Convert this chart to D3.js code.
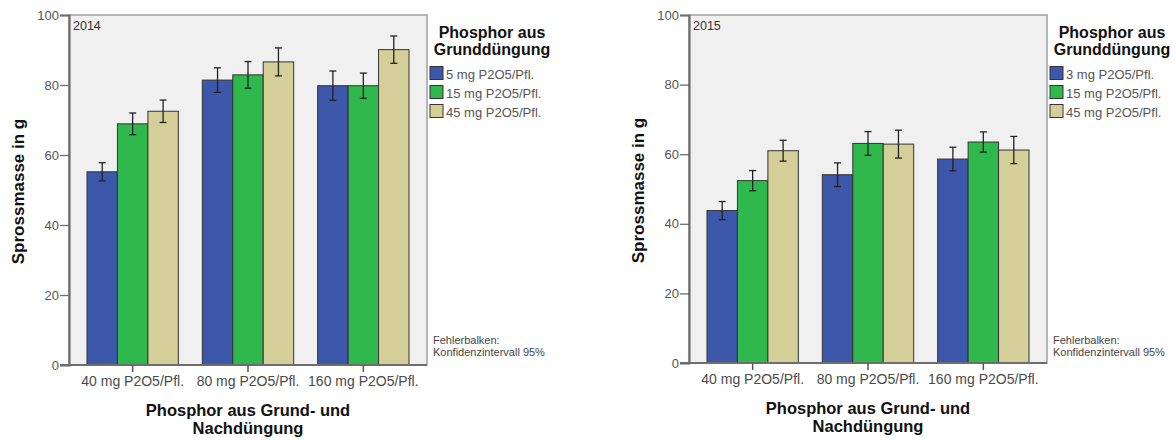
<!DOCTYPE html>
<html>
<head>
<meta charset="utf-8">
<script src="https://cdn.jsdelivr.net/npm/d3@7"></script>
<style>
  body { margin: 0; background: #fff; }
  text { font-family: Arial, "Liberation Sans", sans-serif; }
</style>
</head>
<body>
<div id="chart"></div>
<script>
// Data
const categories = ["40 mg P2O5/Pfl.", "80 mg P2O5/Pfl.", "160 mg P2O5/Pfl."];
const series2014 = ["5 mg P2O5/Pfl.", "15 mg P2O5/Pfl.", "45 mg P2O5/Pfl."];
const series2015 = ["3 mg P2O5/Pfl.", "15 mg P2O5/Pfl.", "45 mg P2O5/Pfl."];
// means per category (rows) and series (columns)
const mean2014 = [[55.2, 68.9, 72.5], [81.4, 82.9, 86.6], [79.8, 79.8, 90.1]];
const ci2014   = [[2.6, 3.1, 3.2], [3.5, 3.8, 4.0], [4.2, 3.6, 3.9]];
const mean2015 = [[43.8, 52.4, 61.0], [54.1, 63.1, 62.9], [58.6, 63.5, 61.2]];
const ci2015   = [[2.6, 2.9, 3.0], [3.4, 3.4, 4.0], [3.4, 2.9, 3.9]];
const yTicks = [0, 20, 40, 60, 80, 100];

const colors = ["#3d57aa", "#2fb84b", "#d4cf98"];

const width = 1176;
const height = 440;

const svg = d3.select("#chart")
  .append("svg")
  .attr("width", width)
  .attr("height", height)
  .attr("viewBox", [0, 0, width, height]);

const panels = [
  { year: "2014", series: series2014, means: mean2014, ci: ci2014, left: 69, bottom: 365 },
  { year: "2015", series: series2015, means: mean2015, ci: ci2015, left: 689, bottom: 363 }
];

panels.forEach(p => {
  const top = 15, right = p.left + 358;
  const g = svg.append("g");

  const x = d3.scaleBand()
    .domain(categories)
    .range([p.left, right])
    .paddingInner(0.208)
    .paddingOuter(0.156);

  const xs = d3.scaleBand()
    .domain(d3.range(p.series.length))
    .range([0, x.bandwidth()]);

  const y = d3.scaleLinear()
    .domain([0, 100])
    .range([p.bottom, top]);

  // plot background and frame
  g.append("rect")
    .attr("x", p.left).attr("y", top)
    .attr("width", right - p.left).attr("height", p.bottom - top)
    .attr("fill", "#f0f0f0")
    .attr("stroke", "#a0a0a0")
    .attr("stroke-width", 1.5);

  // bars
  const rows = categories.flatMap((c, i) => p.series.map((s, j) => ({
    cat: c, j: j, value: p.means[i][j], ci: p.ci[i][j]
  })));

  g.selectAll("rect.bar")
    .data(rows)
    .join("rect")
    .attr("class", "bar")
    .attr("x", d => x(d.cat) + xs(d.j))
    .attr("y", d => y(d.value))
    .attr("width", xs.bandwidth())
    .attr("height", d => y(0) - y(d.value))
    .attr("fill", d => colors[d.j])
    .attr("stroke", "#333")
    .attr("stroke-width", 1);

  // error bars
  const eb = g.selectAll("g.err")
    .data(rows)
    .join("g")
    .attr("class", "err")
    .attr("transform", d => `translate(${x(d.cat) + xs(d.j) + xs.bandwidth() / 2},0)`)
    .attr("stroke", "#222")
    .attr("stroke-width", 1.3);

  eb.append("line")
    .attr("y1", d => y(d.value + d.ci))
    .attr("y2", d => y(d.value - d.ci));
  eb.append("line")
    .attr("x1", -3.5).attr("x2", 3.5)
    .attr("y1", d => y(d.value + d.ci)).attr("y2", d => y(d.value + d.ci));
  eb.append("line")
    .attr("x1", -3.5).attr("x2", 3.5)
    .attr("y1", d => y(d.value - d.ci)).attr("y2", d => y(d.value - d.ci));

  // y axis
  const yAxis = g.append("g")
    .attr("transform", `translate(${p.left},0)`)
    .call(d3.axisLeft(y).tickValues(yTicks).tickSize(9).tickPadding(1));
  yAxis.select(".domain").attr("stroke", "#6e6e6e").attr("stroke-width", 2.2);
  yAxis.selectAll(".tick line").attr("stroke", "#6e6e6e").attr("stroke-width", 1.3);
  yAxis.selectAll(".tick text")
    .attr("fill", "#555")
    .style("font-size", "13px")
    .style("font-family", "Arial, 'Liberation Sans', sans-serif");

  // x axis
  const xAxis = g.append("g")
    .attr("transform", `translate(0,${p.bottom})`)
    .call(d3.axisBottom(x).tickSize(7).tickPadding(4).tickSizeOuter(0));
  xAxis.select(".domain").attr("stroke", "#6e6e6e").attr("stroke-width", 2.2)
    .attr("d", `M${p.left - 9},0H${right}`);
  xAxis.selectAll(".tick line").attr("stroke", "#555").attr("stroke-width", 1.5);
  xAxis.selectAll(".tick text")
    .attr("fill", "#4a4a4a")
    .style("font-size", "14px")
    .style("font-family", "Arial, 'Liberation Sans', sans-serif");

  // year label
  g.append("text")
    .attr("x", p.left + 4).attr("y", top + 15)
    .attr("fill", "#333")
    .style("font-size", "12.5px")
    .text(p.year);

  // axis titles
  g.append("text")
    .attr("transform", `translate(${p.left - 45},${(top + p.bottom) / 2 + 1.5}) rotate(-90)`)
    .attr("text-anchor", "middle")
    .attr("fill", "#111")
    .style("font-size", "17px")
    .style("font-weight", "bold")
    .text("Sprossmasse in g");

  const cx = (p.left + right) / 2;
  const xt = g.append("text")
    .attr("text-anchor", "middle")
    .attr("fill", "#111")
    .style("font-size", "16.5px")
    .style("font-weight", "bold");
  xt.append("tspan").attr("x", cx).attr("y", p.bottom + 51).text("Phosphor aus Grund- und");
  xt.append("tspan").attr("x", cx).attr("y", p.bottom + 69).text("Nachdüngung");

  // legend
  const lx = right + 65;
  const lt = g.append("text")
    .attr("text-anchor", "middle")
    .attr("fill", "#111")
    .style("font-size", "16px")
    .style("font-weight", "bold");
  lt.append("tspan").attr("x", lx).attr("y", 38).text("Phosphor aus");
  lt.append("tspan").attr("x", lx).attr("y", 55).text("Grunddüngung");

  const item = g.selectAll("g.leg")
    .data(p.series)
    .join("g")
    .attr("class", "leg")
    .attr("transform", (d, i) => `translate(${right + 3},${66.5 + i * 19})`);
  item.append("rect")
    .attr("width", 13).attr("height", 13)
    .attr("fill", (d, i) => colors[i])
    .attr("stroke", "#333");
  item.append("text")
    .attr("x", 16).attr("y", 12.5)
    .attr("fill", "#555")
    .style("font-size", "13px")
    .text(d => d);

  const note = g.append("text")
    .attr("fill", "#444")
    .style("font-size", "11px");
  note.append("tspan").attr("x", right + 6).attr("y", 344).text("Fehlerbalken:");
  note.append("tspan").attr("x", right + 6).attr("y", 355.5).text("Konfidenzintervall 95%");
});
</script>
</body>
</html>
